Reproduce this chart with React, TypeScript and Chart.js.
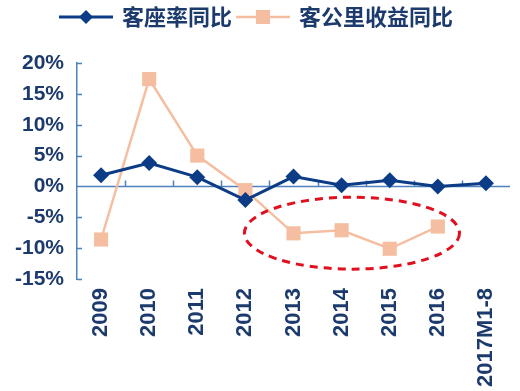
import React, { useEffect, useRef } from "react";
import { Chart, registerables } from "chart.js";

Chart.register(...registerables);

const categories = ["2009", "2010", "2011", "2012", "2013", "2014", "2015", "2016", "2017M1-8"];
const loadFactorYoY = [1.8, 3.8, 1.5, -2.2, 1.6, 0.2, 1.0, 0.0, 0.5];
const yieldPerKmYoY: (number | null)[] = [-8.6, 17.4, 5.0, -0.6, -7.6, -7.1, -10.1, -6.5, null];
const seriesNames = ["客座率同比", "客公里收益同比"];
const yTicks = { min: -15, max: 20, step: 5 };
// highlight ellipse bounds (category index / value units)
const highlight = { fromIndex: 2.98, toIndex: 7.45, topValue: -1.75, bottomValue: -13.4 };

const BLUE = "#0B3C85";
const PEACH = "#F6BEA0";
const AXIS = "#4F81BD";
const TEXT = "#1C3A6C";
const RED = "#E0101E";
const FONT = '"Liberation Sans", "Noto Sans CJK SC", Arial, sans-serif';

function makeLegendIcon(kind: "diamond" | "square"): HTMLCanvasElement {
  const c = document.createElement("canvas");
  c.width = 54;
  c.height = 20;
  const ctx = c.getContext("2d")!;
  ctx.strokeStyle = kind === "diamond" ? BLUE : PEACH;
  ctx.lineWidth = kind === "diamond" ? 3 : 2.5;
  ctx.beginPath();
  ctx.moveTo(0, 10);
  ctx.lineTo(54, 10);
  ctx.stroke();
  ctx.fillStyle = kind === "diamond" ? BLUE : PEACH;
  ctx.beginPath();
  if (kind === "diamond") {
    ctx.moveTo(27, 3);
    ctx.lineTo(34, 10);
    ctx.lineTo(27, 17);
    ctx.lineTo(20, 10);
    ctx.closePath();
  } else {
    ctx.rect(20, 3, 14, 14);
  }
  ctx.fill();
  return c;
}

const decorPlugin = {
  id: "decor",
  beforeLayout(chart: any) {
    const lg = chart.legend;
    if (lg && !lg.__patched) {
      lg.__patched = true;
      const origFit = lg.fit;
      lg.fit = function () {
        origFit.call(this);
        this.height += 25;
      };
    }
  },
  beforeDatasetsDraw(chart: any) {
    const { ctx, chartArea, scales } = chart;
    const x = scales.x;
    const y = scales.y;
    const y0 = y.getPixelForValue(0);
    ctx.save();
    ctx.strokeStyle = AXIS;
    ctx.lineWidth = 1.5;
    ctx.beginPath();
    ctx.moveTo(chartArea.left, y0);
    ctx.lineTo(chartArea.right, y0);
    for (let k = 1; k < categories.length; k++) {
      const px = Math.round(x.getPixelForValue(k - 0.5)) + 0.5;
      ctx.moveTo(px, y0);
      ctx.lineTo(px, y0 - 6);
    }
    for (let v = yTicks.min; v <= yTicks.max; v += yTicks.step) {
      const py = Math.round(y.getPixelForValue(v)) + 0.5;
      ctx.moveTo(chartArea.left, py);
      ctx.lineTo(chartArea.left + 5, py);
    }
    ctx.stroke();
    ctx.restore();
  },
  afterDatasetsDraw(chart: any) {
    const { ctx, scales } = chart;
    const x = scales.x;
    const y = scales.y;
    const left = x.getPixelForValue(highlight.fromIndex);
    const right = x.getPixelForValue(highlight.toIndex);
    const top = y.getPixelForValue(highlight.topValue);
    const bottom = y.getPixelForValue(highlight.bottomValue);
    ctx.save();
    ctx.strokeStyle = RED;
    ctx.lineWidth = 3;
    ctx.setLineDash([8, 6]);
    ctx.beginPath();
    ctx.ellipse((left + right) / 2, (top + bottom) / 2, (right - left) / 2, (bottom - top) / 2, 0, 0, Math.PI * 2);
    ctx.stroke();
    ctx.restore();
  },
};

export default function App() {
  const ref = useRef<HTMLCanvasElement | null>(null);
  useEffect(() => {
    if (!ref.current) return;
    const icons = [makeLegendIcon("diamond"), makeLegendIcon("square")];
    const chart = new Chart(ref.current, {
      type: "line",
      data: {
        labels: categories,
        datasets: [
          {
            label: seriesNames[0],
            data: loadFactorYoY,
            borderColor: BLUE,
            backgroundColor: BLUE,
            borderWidth: 3,
            pointStyle: "rectRot",
            pointRadius: 8,
            pointBorderWidth: 0,
            tension: 0,
          },
          {
            label: seriesNames[1],
            data: yieldPerKmYoY,
            borderColor: PEACH,
            backgroundColor: PEACH,
            borderWidth: 2.5,
            pointStyle: "rect",
            pointRadius: 10,
            pointBorderWidth: 0,
            tension: 0,
          },
        ],
      },
      options: {
        responsive: false,
        animation: false,
        layout: { padding: { top: 0, left: 0, right: 6, bottom: 0 } },
        plugins: {
          tooltip: { enabled: false },
          legend: {
            display: true,
            position: "top",
            labels: {
              usePointStyle: true,
              pointStyleWidth: 50,
              padding: 6,
              color: TEXT,
              font: { family: '"Noto Sans CJK SC", sans-serif', size: 22, weight: "bold" },
              generateLabels: (ch: any) =>
                ch.data.datasets.map((ds: any, i: number) => ({
                  text: ds.label,
                  pointStyle: icons[i],
                  fontColor: TEXT,
                  datasetIndex: i,
                  hidden: false,
                  lineWidth: 0,
                  strokeStyle: "transparent",
                  fillStyle: "transparent",
                })),
            },
          },
        },
        scales: {
          x: {
            offset: true,
            grid: { display: false },
            border: { display: false },
            ticks: {
              color: TEXT,
              minRotation: 90,
              maxRotation: 90,
              padding: 1,
              autoSkip: false,
              font: { family: FONT, size: 22, weight: "bold" },
            },
            afterFit: (s: any) => {
              s.height = 112;
            },
          },
          y: {
            min: yTicks.min,
            max: yTicks.max,
            grid: { display: true, drawOnChartArea: false, drawTicks: false },
            border: { display: true, color: AXIS, width: 1.5 },
            ticks: {
              stepSize: yTicks.step,
              padding: 13,
              color: TEXT,
              font: { family: FONT, size: 21, weight: "bold" },
              callback: (v: any) => `${v}%`,
            },
            afterFit: (s: any) => {
              s.width = 77;
            },
          },
        },
      },
      plugins: [decorPlugin],
    });
    return () => chart.destroy();
  }, []);
  return (
    <div style={{ position: "fixed", left: 0, top: 0, width: 520, height: 391, background: "#fff" }}>
      <canvas ref={ref} width={520} height={391} />
    </div>
  );
}
